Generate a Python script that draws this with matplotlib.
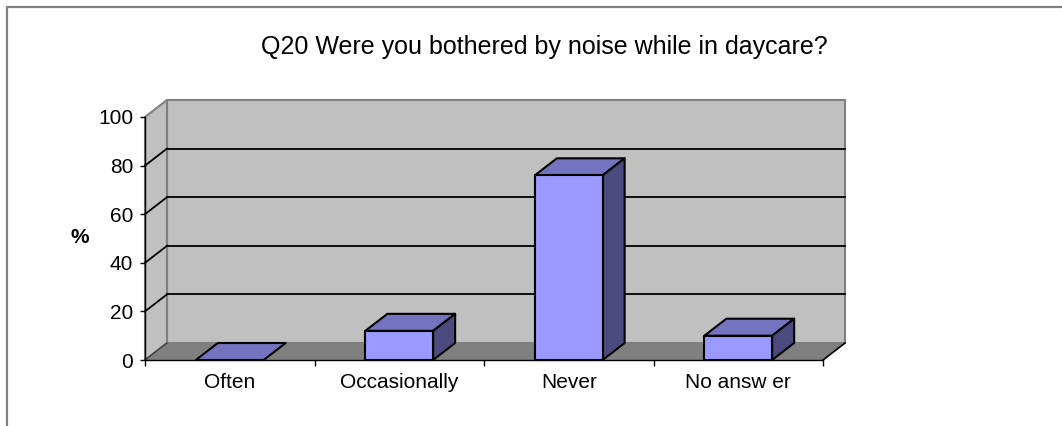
import matplotlib
matplotlib.use("Agg")
import matplotlib.pyplot as plt
from matplotlib.patches import Polygon, Rectangle
from matplotlib.lines import Line2D

# ---- data ----
categories = ["Often", "Occasionally", "Never", "No answ er"]
values = [0, 12, 76, 10]
yticks = [0, 20, 40, 60, 80, 100]
title = "Q20 Were you bothered by noise while in daycare?"
ylabel = "%"

# ---- style ----
W, H = 1062, 426
plt.rcParams['font.family'] = ['Liberation Sans', 'DejaVu Sans']
WALL = "#C0C0C0"
FLOOR = "#808080"
EDGE_GRAY = "#808080"
FRONT = "#9999FF"
TOP = "#7373C0"
SIDE = "#4B4B80"
FS = 15

fig = plt.figure(figsize=(W / 100, H / 100), dpi=100)
fig.patch.set_facecolor("white")

# figure border (left and top)
fig.add_artist(Line2D([6.5 / W, 6.5 / W, 1], [0, 1 - 6.5 / H, 1 - 6.5 / H],
                      transform=fig.transFigure, color=EDGE_GRAY, lw=1.6))

ax = fig.add_axes([145 / W, (H - 360) / H, 678 / W, 243 / H])
n = len(categories)
ax.set_xlim(-0.5, n - 0.5)
ax.set_ylim(0, 100)
ax.patch.set_visible(False)
for s in ["top", "right"]:
    ax.spines[s].set_visible(False)
for s in ["left", "bottom"]:
    ax.spines[s].set_color("black")
    ax.spines[s].set_linewidth(1.0)
    ax.spines[s].set_zorder(6)

# depth offset in data units
DX = 22 / (678 / n)
DY = 17 / (243 / 100)
x_l, x_r = -0.5, n - 0.5

# walls and floor
ax.add_patch(Rectangle((x_l + DX, DY), x_r - x_l, 100, facecolor=WALL,
                       edgecolor=EDGE_GRAY, lw=1.5, clip_on=False, zorder=1))
ax.add_patch(Polygon([(x_l, 0), (x_l + DX, DY), (x_l + DX, 100 + DY), (x_l, 100)],
                     closed=True, facecolor=WALL, edgecolor=EDGE_GRAY, lw=1.5,
                     clip_on=False, zorder=1))
ax.add_patch(Polygon([(x_l, 0), (x_r, 0), (x_r + DX, DY), (x_l + DX, DY)],
                     closed=True, facecolor=FLOOR, edgecolor=FLOOR, lw=1.0,
                     clip_on=False, zorder=1.5))
ax.plot([x_r, x_r + DX], [0, DY], color="black", lw=1.2, clip_on=False, zorder=2)
ax.plot([x_l, x_l + DX], [0, DY], color="#404040", lw=1.0, clip_on=False, zorder=2)

# gridlines
for t in yticks[1:-1]:
    ax.plot([x_l + DX, x_r + DX], [t + DY, t + DY], color="black", lw=1.3,
            clip_on=False, zorder=2)
    ax.plot([x_l, x_l + DX], [t, t + DY], color="black", lw=1.3,
            clip_on=False, zorder=2)

# bars
BW = 0.4
for i, v in enumerate(values):
    x0, x1 = i - BW / 2, i + BW / 2
    ax.add_patch(Polygon([(x0, v), (x1, v), (x1 + DX, v + DY), (x0 + DX, v + DY)],
                         closed=True, facecolor=TOP, edgecolor="black", lw=1.5,
                         joinstyle="round", clip_on=False, zorder=4))
    if v > 0:
        ax.add_patch(Polygon([(x1, 0), (x1 + DX, DY), (x1 + DX, v + DY), (x1, v)],
                             closed=True, facecolor=SIDE, edgecolor="black", lw=1.5,
                             joinstyle="round", clip_on=False, zorder=4))
        ax.add_patch(Rectangle((x0, 0), BW, v, facecolor=FRONT, edgecolor="black",
                               lw=1.5, joinstyle="round", clip_on=False, zorder=5))

# axes ticks and labels
ax.set_yticks(yticks)
ax.set_yticklabels([str(t) for t in yticks], fontsize=FS)
ax.tick_params(axis="y", direction="out", length=3.6, width=1.0, pad=5)
ax.set_xticks(range(n))
ax.set_xticklabels(categories, fontsize=FS)
ax.set_xticks([i - 0.5 for i in range(n + 1)], minor=True)
ax.tick_params(axis="x", which="major", length=0, pad=9)
ax.tick_params(axis="x", which="minor", length=4.3, width=1.0)

fig.text(80 / W, 1 - 238 / H, ylabel, ha="center", va="center",
         fontsize=FS, fontweight="bold")
fig.text(544 / W, 1 - 54 / H, title, ha="center", va="baseline", fontsize=18)

fig.savefig("out.png", dpi=100)
